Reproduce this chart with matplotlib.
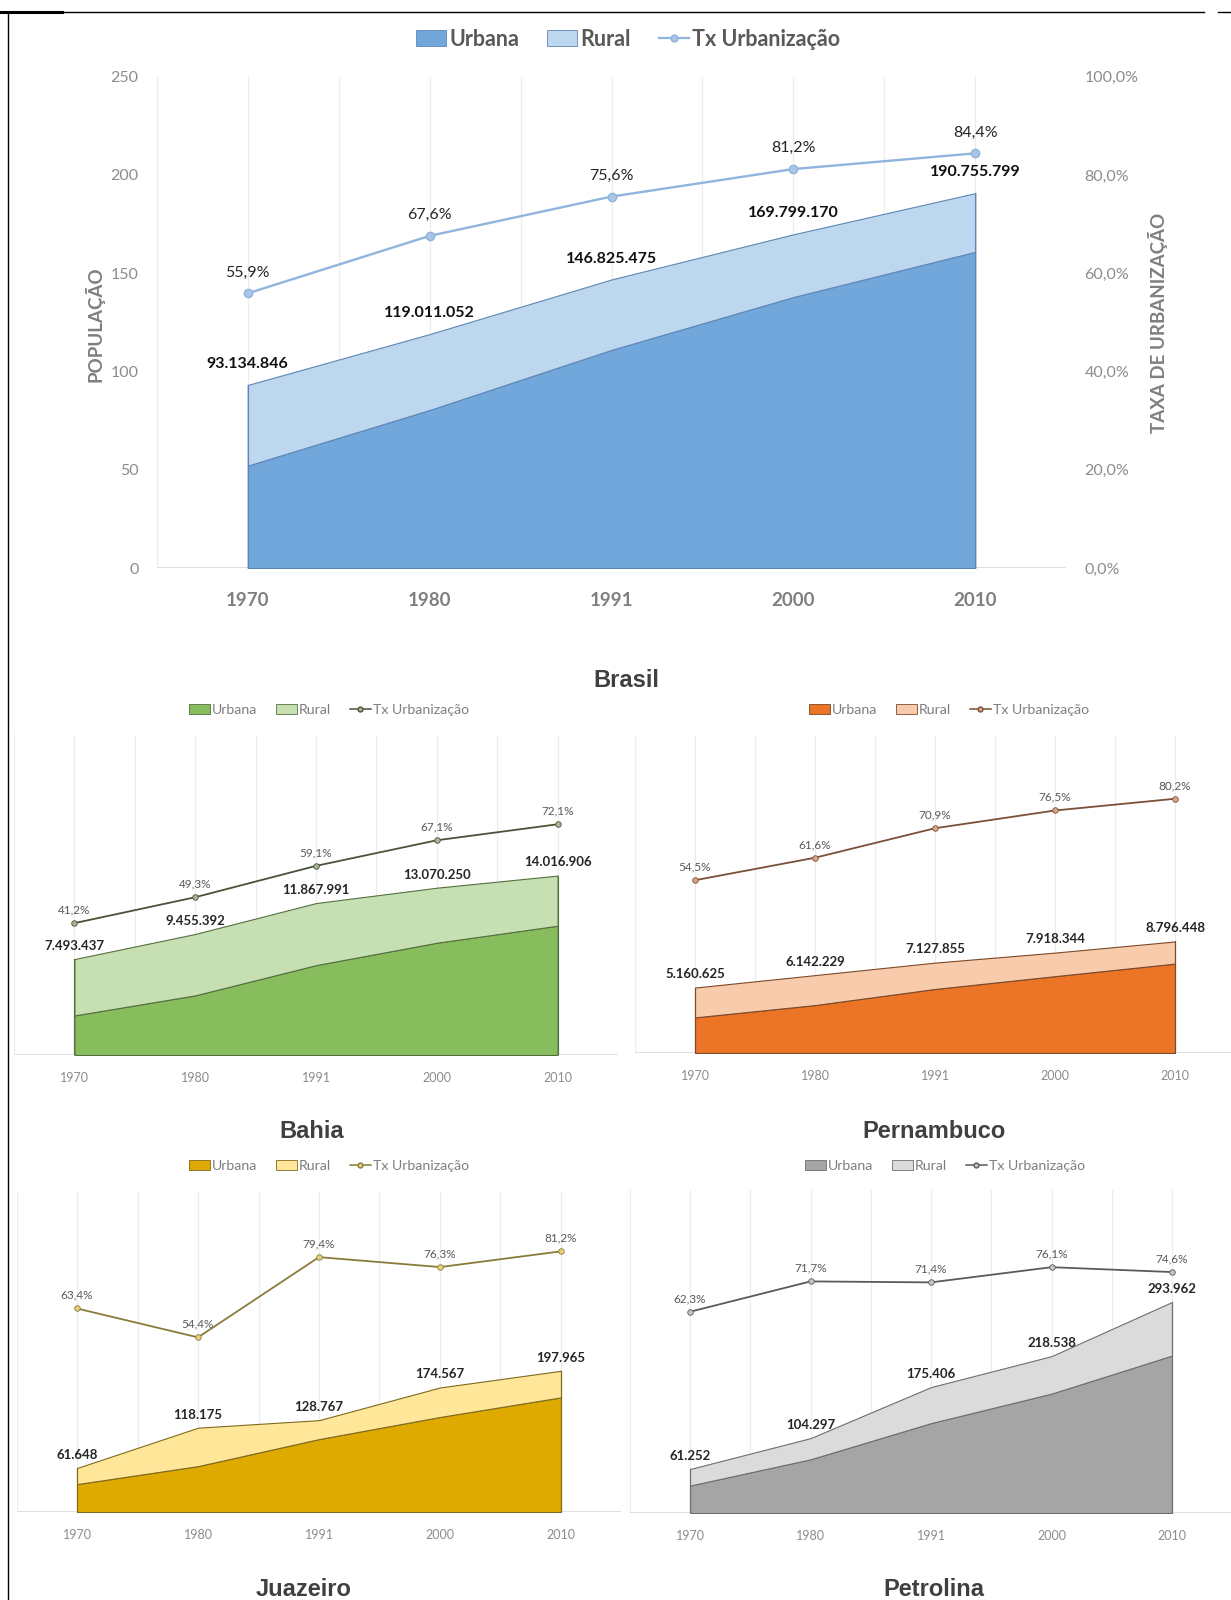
import matplotlib
matplotlib.use('Agg')
import matplotlib.pyplot as plt
import numpy as np
from matplotlib.patches import Patch
from matplotlib.lines import Line2D

plt.rcParams['font.family'] = ['Lato', 'DejaVu Sans']

W, H = 1231, 1600

anos = ['1970', '1980', '1991', '2000', '2010']

# Brasil (milhões de habitantes)
br_total = [93134846, 119011052, 146825475, 169799170, 190755799]
br_urbana = [52.1, 80.4, 111.0, 137.9, 160.9]
br_tx = [55.9, 67.6, 75.6, 81.2, 84.4]

# Bahia (milhões)
ba_total = [7493437, 9455392, 11867991, 13070250, 14016906]
ba_urbana = [3.09, 4.66, 7.02, 8.77, 10.10]
ba_tx = [41.2, 49.3, 59.1, 67.1, 72.1]

# Pernambuco (milhões)
pe_total = [5160625, 6142229, 7127855, 7918344, 8796448]
pe_urbana = [2.81, 3.78, 5.05, 6.06, 7.05]
pe_tx = [54.5, 61.6, 70.9, 76.5, 80.2]

# Juazeiro (milhares)
ju_total = [61648, 118175, 128767, 174567, 197965]
ju_urbana = [39.1, 64.3, 102.2, 133.2, 160.7]
ju_tx = [63.4, 54.4, 79.4, 76.3, 81.2]

# Petrolina (milhares)
pt_total = [61252, 104297, 175406, 218538, 293962]
pt_urbana = [38.2, 74.8, 125.2, 166.3, 219.3]
pt_tx = [62.3, 71.7, 71.4, 76.1, 74.6]


def fmt_int(v):
    return f"{v:,}".replace(',', '.')


def fmt_pct(v):
    return f"{v:.1f}%".replace('.', ',')


fig = plt.figure(figsize=(W / 100, H / 100), dpi=100)


def panel(x0, spacing, top, bottom, total, urbana, tx, unit, ymax,
          c_urb, c_rur, c_edge, c_line, c_mkf, big=False):
    left = x0 - spacing / 2
    right = min(x0 + 4.5 * spacing, W)
    hi = (right - x0) / spacing
    ax = fig.add_axes([left / W, 1 - bottom / H, (right - left) / W, (bottom - top) / H])
    x = np.arange(len(anos))
    tot = np.array(total) / unit
    urb = np.array(urbana)
    ax.set_xlim(-0.5, hi)
    ax.set_ylim(0, ymax)
    for g in np.arange(-0.5, 4.51, 0.5):
        ax.axvline(g, color='#EDEDED', lw=0.9, zorder=0)
    ax.fill_between(x, 0, urb, facecolor=c_urb, edgecolor=c_edge, lw=0.8, zorder=2)
    ax.fill_between(x, urb, tot, facecolor=c_rur, edgecolor=c_edge, lw=0.8, zorder=2)
    ax.plot([0, 0], [0, tot[0]], color=c_edge, lw=0.8, zorder=3)
    ax.plot([4, 4], [0, tot[4]], color=c_edge, lw=0.8, zorder=3)
    ax.axhline(0, color='#D9D9D9', lw=1.2, zorder=1)
    for s in ax.spines.values():
        s.set_visible(False)
    ax.set_xticks(x)
    ax.set_xticklabels(anos)
    ax2 = ax.twinx()
    ax2.set_ylim(0, 1.0)
    for s in ax2.spines.values():
        s.set_visible(False)
    txv = np.array(tx) / 100
    if big:
        ax2.plot(x, txv, color='#8FB4DE', lw=1.7, marker='o', ms=6,
                 mfc='#A9C4E6', mec='#8FB4DE', zorder=4)
        ax.tick_params(axis='x', length=0, pad=17, labelsize=13.5, labelcolor='#7F7F7F')
        for lab in ax.get_xticklabels():
            lab.set_fontweight('bold')
        ax.set_yticks(np.arange(0, 251, 50))
        ax.tick_params(axis='y', length=0, pad=13, labelsize=11.5, labelcolor='#8C8C8C')
        ax2.set_yticks(np.arange(0, 1.01, 0.2))
        ax2.set_yticklabels([fmt_pct(v * 100) for v in np.arange(0, 1.01, 0.2)])
        ax2.tick_params(axis='y', length=0, pad=13, labelsize=11.5, labelcolor='#8C8C8C')
        for i in range(len(anos)):
            ax.annotate(fmt_int(total[i]), (x[i], tot[i]), xytext=(0, 15),
                        textcoords='offset points', ha='center', va='center',
                        fontsize=11.5, fontweight='bold', color='#111111', zorder=6)
            ax2.annotate(fmt_pct(tx[i]), (x[i], txv[i]), xytext=(0, 15),
                         textcoords='offset points', ha='center', va='center',
                         fontsize=11.5, color='#262626', zorder=6)
    else:
        ax2.plot(x, txv, color=c_line, lw=1.3, marker='o', ms=4,
                 mfc=c_mkf, mec=c_line, mew=0.6, zorder=4)
        ax.tick_params(axis='x', length=0, pad=12, labelsize=9, labelcolor='#8C8C8C')
        ax.set_yticks([])
        ax2.set_yticks([])
        for i in range(len(anos)):
            ax.annotate(fmt_int(total[i]), (x[i], tot[i]), xytext=(0, 9.5),
                        textcoords='offset points', ha='center', va='center',
                        fontsize=9.5, fontweight='bold', color='#262626', zorder=6)
            ax2.annotate(fmt_pct(tx[i]), (x[i], txv[i]), xytext=(0, 9.5),
                         textcoords='offset points', ha='center', va='center',
                         fontsize=8.5, color='#595959', zorder=6)
    return ax, ax2


def legenda(cx, cy, c_urb, c_rur, c_edge, c_line, c_mkf, big=False):
    if big:
        fs, hl, hh, ms, lw = 15.5, 1.4, 0.8, 5, 1.6
    else:
        fs, hl, hh, ms, lw = 10.2, 1.5, 0.7, 3.5, 1.1
    handles = [Patch(facecolor=c_urb, edgecolor=c_edge, lw=0.6),
               Patch(facecolor=c_rur, edgecolor=c_edge, lw=0.6),
               Line2D([0], [0], color=c_line, lw=lw, marker='o', ms=ms, mfc=c_mkf, mec=c_line)]
    leg = fig.legend(handles, ['Urbana', 'Rural', 'Tx Urbanização'], loc='center',
                     bbox_to_anchor=(cx / W, 1 - cy / H), ncol=3, frameon=False,
                     fontsize=fs, handlelength=hl, handleheight=hh, handletextpad=0.15,
                     columnspacing=1.3, borderaxespad=0)
    for t in leg.get_texts():
        t.set_color('#595959' if big else '#7F7F7F')
        if big:
            t.set_fontweight('bold')


def titulo(cx, cy, txt):
    fig.text(cx / W, 1 - cy / H, txt, ha='center', va='center', fontsize=17,
             fontweight='bold', color='#404040', family=['Liberation Sans', 'DejaVu Sans'])


# Brasil
panel(247.7, 181.9, 76.7, 568, br_total, br_urbana, br_tx, 1e6, 250,
      '#72A7DB', '#BDD7EE', '#5E86B5', '#8FB4DE', '#A9C4E6', big=True)
legenda(628, 39, '#72A7DB', '#BDD7EE', '#5E86B5', '#8FB4DE', '#A9C4E6', big=True)
fig.text(95 / W, 1 - 324 / H, 'POPULAÇÃO', rotation=90, ha='center', va='center',
         fontsize=13.5, fontweight='bold', color='#7F7F7F')
fig.text(1158 / W, 1 - 323 / H, 'TAXA DE URBANIZAÇÃO', rotation=90, ha='center', va='center',
         fontsize=13.5, fontweight='bold', color='#7F7F7F')
titulo(626, 680, 'Brasil')

# Bahia
panel(74.4, 120.8, 735, 1055, ba_total, ba_urbana, ba_tx, 1e6, 25,
      '#88BD5E', '#C6E0B4', '#55703F', '#4A5338', '#A7B596')
legenda(329, 710, '#88BD5E', '#C6E0B4', '#55703F', '#4A5338', '#A7B596')
titulo(312, 1131, 'Bahia')

# Pernambuco
panel(695, 120, 736, 1053, pe_total, pe_urbana, pe_tx, 1e6, 25,
      '#EC7426', '#F8CBAD', '#7A4A2A', '#7A5038', '#D9A585')
legenda(949, 710, '#EC7426', '#F8CBAD', '#7A4A2A', '#7A5038', '#D9A585')
titulo(934, 1131, 'Pernambuco')

# Juazeiro
panel(77, 121, 1191, 1512, ju_total, ju_urbana, ju_tx, 1e3, 450,
      '#DFAA00', '#FFE699', '#7D6A20', '#8A7B3A', '#E6D07A')
legenda(329, 1166, '#DFAA00', '#FFE699', '#7D6A20', '#8A7B3A', '#E6D07A')
titulo(304, 1590, 'Juazeiro')

# Petrolina
panel(690, 120.5, 1190, 1513, pt_total, pt_urbana, pt_tx, 1e3, 450,
      '#A5A5A5', '#DBDBDB', '#6E6E6E', '#5A5A5A', '#C4C4C4')
legenda(945, 1166, '#A5A5A5', '#DBDBDB', '#6E6E6E', '#5A5A5A', '#C4C4C4')
titulo(934, 1590, 'Petrolina')

# moldura
def linha(x0, y0, x1, y1, lw):
    fig.add_artist(Line2D([x0 / W, x1 / W], [1 - y0 / H, 1 - y1 / H],
                          transform=fig.transFigure, color='black', lw=lw))

linha(0, 12, 62, 12, 2.2)
linha(8, 12, 1204, 12, 1.0)
linha(1218, 12, 1231, 12, 1.0)
linha(8, 12, 8, 1600, 1.0)

fig.savefig('out.png', dpi=100)
